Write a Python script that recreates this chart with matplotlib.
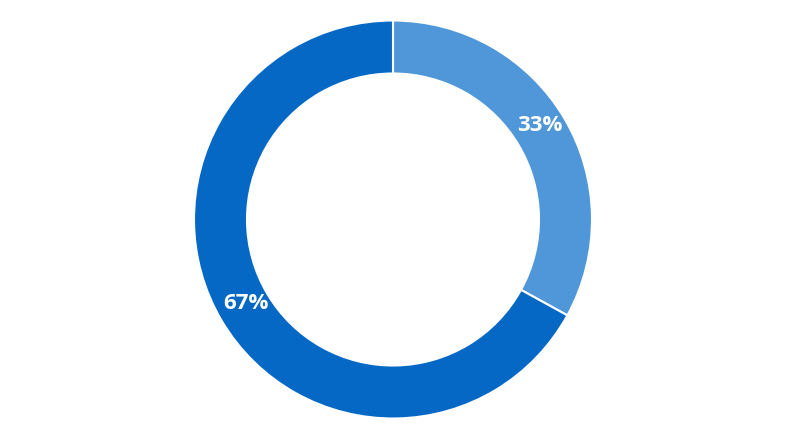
import matplotlib
matplotlib.use("Agg")
import matplotlib.pyplot as plt

labels = ["A", "B"]
values = [33, 67]
colors = ["#4F97D8", "#0668C5"]

fig = plt.figure(figsize=(7.86, 4.40), dpi=100)
ax = fig.add_axes([0, 0, 1, 1])

R = 199
w = 53
wedges, texts, autotexts = ax.pie(
    values, colors=colors, startangle=90, counterclock=False,
    center=(393, 440 - 219.5), radius=R,
    wedgeprops=dict(width=w, edgecolor="white", linewidth=1.5),
    autopct=lambda p: f"{p:.0f}%", pctdistance=(R - w / 2) / R,
    frame=True,
)
ax.set_xlim(0, 786)
ax.set_ylim(0, 440)
ax.set_aspect("equal")
ax.axis("off")
offsets = [(-2, 6), (1, 4)]
for t, (dx, dy) in zip(autotexts, offsets):
    x, y = t.get_position()
    t.set_position((x + dx, y + dy))
    t.set_color("white")
    t.set_fontsize(16)
    t.set_fontweight("bold")
    t.set_fontfamily(["Open Sans", "DejaVu Sans"])

fig.savefig("out.png", dpi=100)
